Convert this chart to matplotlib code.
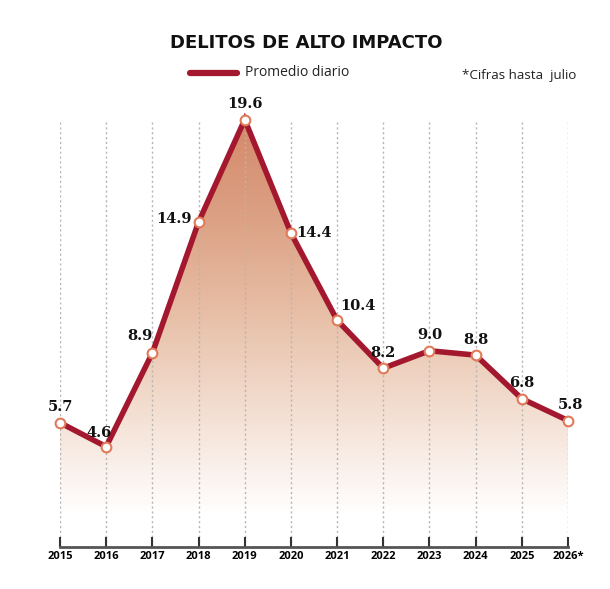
import numpy as np
import matplotlib
matplotlib.use("Agg")
import matplotlib.pyplot as plt
from matplotlib.colors import LinearSegmentedColormap

years = ['2015', '2016', '2017', '2018', '2019', '2020', '2021',
         '2022', '2023', '2024', '2025', '2026*']
values = [5.7, 4.6, 8.9, 14.9, 19.6, 14.4, 10.4, 8.2, 9.0, 8.8, 6.8, 5.8]
labels = ['5.7', '4.6', '8.9', '14.9', '19.6', '14.4', '10.4', '8.2', '9.0', '8.8', '6.8', '5.8']

# label offsets in points (dx, dy, ha)
offsets = [(0, 6, 'center'), (-5, 5, 'center'), (-9, 7, 'center'), (-5, 2, 'right'),
           (0, 6, 'center'), (4, 0, 'left'), (2, 5, 'left'), (0, 6, 'center'),
           (0, 6, 'center'), (0, 6, 'center'), (0, 6, 'center'), (2, 6, 'center')]

line_col = '#a3182e'
mark_col = '#e07a58'

W, H = 610, 589
fig = plt.figure(figsize=(W / 100, H / 100), dpi=100)
ax = fig.add_axes([60 / W, 42 / H, 508 / W, 447 / H])

x = np.arange(len(values))
ax.set_xlim(0, len(values) - 1)
ax.set_ylim(0, 20.5)

# dotted gridlines
ax.vlines(x, 0, 19.6, colors='#b5b5b5', linestyles=(0, (1.5, 2)), lw=1, zorder=1)

# gradient fill under the line
cmap = LinearSegmentedColormap.from_list(
    'g', [(0, '#ffffff'), (0.2, '#f6e6dc'), (0.5, '#e8c0a8'), (0.75, '#dca184'), (1, '#d4896a')])
grad = np.linspace(0, 20.5, 512).reshape(-1, 1)
grad = np.clip((grad - 1.5) / (19.6 - 1.5), 0, 1)
img = ax.imshow(grad, extent=[0, len(values) - 1, 0, 20.5], origin='lower',
                aspect='auto', cmap=cmap, vmin=0, vmax=1, zorder=0)
poly = ax.fill_between(x, values, 0, color='none', lw=0)
img.set_clip_path(poly.get_paths()[0], transform=ax.transData)

ax.plot(x, values, color=line_col, lw=4, solid_joinstyle='miter', zorder=3, clip_on=False)
ax.plot(x, values, 'o', ms=7, mfc='white', mec=mark_col, mew=1.5, zorder=4, clip_on=False)

for xi, v, lab, (dx, dy, ha) in zip(x, values, labels, offsets):
    ax.annotate(lab, (xi, v), xytext=(dx, dy), textcoords='offset points',
                ha=ha, va='bottom' if dy > 3 else 'center',
                fontsize=10.5, fontweight='bold', family='DejaVu Serif', color='#111111')

for s in ['left', 'right', 'top']:
    ax.spines[s].set_visible(False)
ax.spines['bottom'].set_color('#555555')
ax.spines['bottom'].set_linewidth(2)
ax.set_yticks([])
ax.set_xticks(x)
ax.set_xticklabels(years, fontsize=8, fontweight='bold', family='Open Sans')
ax.tick_params(axis='x', direction='in', length=7, width=1.5, color='#333333', pad=3)

fig.text(306 / W, 1 - 43 / H, 'DELITOS DE ALTO IMPACTO', ha='center', va='center',
         fontsize=13, fontweight='bold', family='DejaVu Sans', color='#111111')
fig.add_artist(plt.Line2D([190 / W, 237 / W], [1 - 73 / H, 1 - 73 / H], color=line_col,
                          lw=4.5, solid_capstyle='round'))
fig.text(245 / W, 1 - 73 / H, 'Promedio diario', ha='left', va='center',
         fontsize=10, family='Open Sans', color='#222222')
fig.text(462 / W, 1 - 75 / H, '*Cifras hasta  julio', ha='left', va='center',
         fontsize=9.6, family='Open Sans', color='#222222')

fig.savefig('out.png', dpi=100)
